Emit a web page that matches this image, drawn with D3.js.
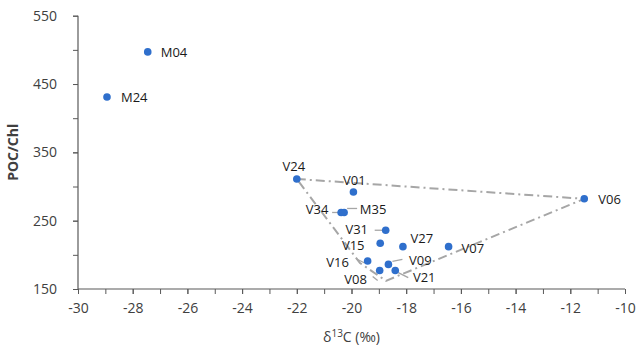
<!DOCTYPE html>
<html><head><meta charset="utf-8">
<script src="https://cdn.jsdelivr.net/npm/d3@7/dist/d3.min.js"></script>
<style>
html,body{margin:0;padding:0;background:#fff;}
svg text{font-family:"Open Sans","Noto Sans",sans-serif;}
</style></head>
<body><svg id="c" width="638" height="350"></svg>
<script>
// ---- data ----
const stations = ["M04","M24","V24","V01","V34","M35","V31","V15","V27","V07","V16","V09","V08","V21","V06"];
const d13C     = [-27.45,-28.94,-22.0,-19.93,-20.38,-20.27,-18.75,-18.95,-18.12,-16.45,-19.41,-18.65,-18.97,-18.40,-11.49];
const pocChl   = [497,431,311,292,262,262,236,217,212,212,191,186,177,177,282];
// outline polygon around the V group (dash-dot line)
const hullX = [-22.0,-11.49,-18.74,-19.69,-22.0];
const hullY = [311,282,162,188,311];
const xTickValues = [-30,-28,-26,-24,-22,-20,-18,-16,-14,-12,-10];
const yTickValues = [150,250,350,450,550];

// ---- layout (label offsets in px) ----
const labelLayout = {
  M04:{dx:13,dy:0,a:"start"}, M24:{dx:14,dy:0,a:"start"},
  V24:{dx:-3,dy:-13,a:"middle"}, V01:{dx:1,dy:-12,a:"middle"},
  V34:{dx:-24,dy:-3,a:"middle",lead:[-9,0,-3,0]}, M35:{dx:29,dy:-3,a:"middle",lead:[3,-4,13,-4]},
  V31:{dx:-29,dy:-1,a:"middle",lead:[-11,0,-3,0]}, V15:{dx:-27,dy:2,a:"middle"},
  V27:{dx:19,dy:-9,a:"middle"}, V07:{dx:13,dy:1,a:"start"}, V06:{dx:14,dy:0,a:"start"},
  V16:{dx:-30,dy:1,a:"middle",lead:[-11,-2,-3,2]}, V09:{dx:32,dy:-4,a:"middle",lead:[4,-3,14,-5]},
  V08:{dx:-24,dy:8,a:"middle",lead:[-7,6,-2,10]}, V21:{dx:29,dy:6,a:"middle",lead:[3,2,13,7]}
};

const W=638,H=350, m={l:78,r:13,t:15.7,b:61};
const svg=d3.select("#c");
const x=d3.scaleLinear().domain([-30,-10]).range([m.l,W-m.r]);
const y=d3.scaleLinear().domain([150,550]).range([H-m.b,m.t]);
const axisColor="#595959", textColor="#404040";

// minor ticks
const gx=svg.append("g").attr("transform",`translate(0,${y(150)})`);
gx.call(d3.axisBottom(x).tickValues(d3.range(-30,-9,1)).tickSize(5).tickFormat(""));
gx.select(".domain").remove();
const gy=svg.append("g").attr("transform",`translate(${x(-30)},0)`);
gy.call(d3.axisLeft(y).tickValues(d3.range(150,551,50)).tickSize(5).tickFormat(""));
gy.select(".domain").remove();
svg.selectAll(".tick line").attr("stroke",axisColor).attr("stroke-width",1);

// main axes with labels
const ax=svg.append("g").attr("transform",`translate(0,${y(150)})`)
  .call(d3.axisBottom(x).tickValues(xTickValues).tickSize(5).tickPadding(9).tickFormat(d=>d));
const ay=svg.append("g").attr("transform",`translate(${x(-30)},0)`)
  .call(d3.axisLeft(y).tickValues(yTickValues).tickSize(5).tickPadding(16).tickFormat(d=>d));
[ax,ay].forEach(g=>{
  g.select(".domain").attr("stroke",axisColor).attr("stroke-width",1.2);
  g.selectAll(".tick line").attr("stroke",axisColor);
  g.selectAll(".tick text").attr("fill",textColor).style("font-size","14px")
   .style("font-family","'Open Sans',sans-serif");
});
ax.select(".domain").attr("d",`M${x(-30)},0H${x(-10)}`);
ay.select(".domain").attr("d",`M0,${y(150)}V${y(550)}`);

// hull dash-dot
const line=d3.line().x(d=>x(d[0])).y(d=>y(d[1]));
svg.append("path").datum(hullX.map((v,i)=>[v,hullY[i]]))
  .attr("d",line).attr("fill","none").attr("stroke","#a6a6a6")
  .attr("stroke-width",2).attr("stroke-dasharray","9,4,2,4");

const pts=stations.map((s,i)=>({s,x:d13C[i],y:pocChl[i]}));

// leader lines
pts.forEach(p=>{
  const L=labelLayout[p.s]; if(!L.lead) return;
  svg.append("line").attr("x1",x(p.x)+L.lead[0]).attr("y1",y(p.y)+L.lead[1])
    .attr("x2",x(p.x)+L.lead[2]).attr("y2",y(p.y)+L.lead[3])
    .attr("stroke","#a6a6a6").attr("stroke-width",1.3);
});

// points
svg.append("g").selectAll("circle").data(pts).join("circle")
  .attr("cx",d=>x(d.x)).attr("cy",d=>y(d.y)).attr("r",3.8).attr("fill","#2f6fcc");

// labels
svg.append("g").selectAll("text").data(pts).join("text")
  .attr("x",d=>x(d.x)+labelLayout[d.s].dx).attr("y",d=>y(d.y)+labelLayout[d.s].dy)
  .attr("text-anchor",d=>labelLayout[d.s].a).attr("dominant-baseline","central")
  .attr("fill","#1a1a1a").style("font-size","13px").text(d=>d.s);

// axis titles
svg.append("text").attr("transform",`translate(18,${(y(150)+y(550))/2}) rotate(-90)`)
  .attr("text-anchor","middle").attr("fill",textColor).style("font-size","14px").style("font-weight","bold")
  .text("POC/Chl");
const xt=svg.append("text").attr("x",(x(-30)+x(-10))/2).attr("y",342)
  .attr("text-anchor","middle").attr("fill",textColor).style("font-size","14px");
xt.append("tspan").text("δ");
xt.append("tspan").attr("dy",-5).style("font-size","10px").text("13");
xt.append("tspan").attr("dy",5).text("C (‰)");
</script></body></html>
